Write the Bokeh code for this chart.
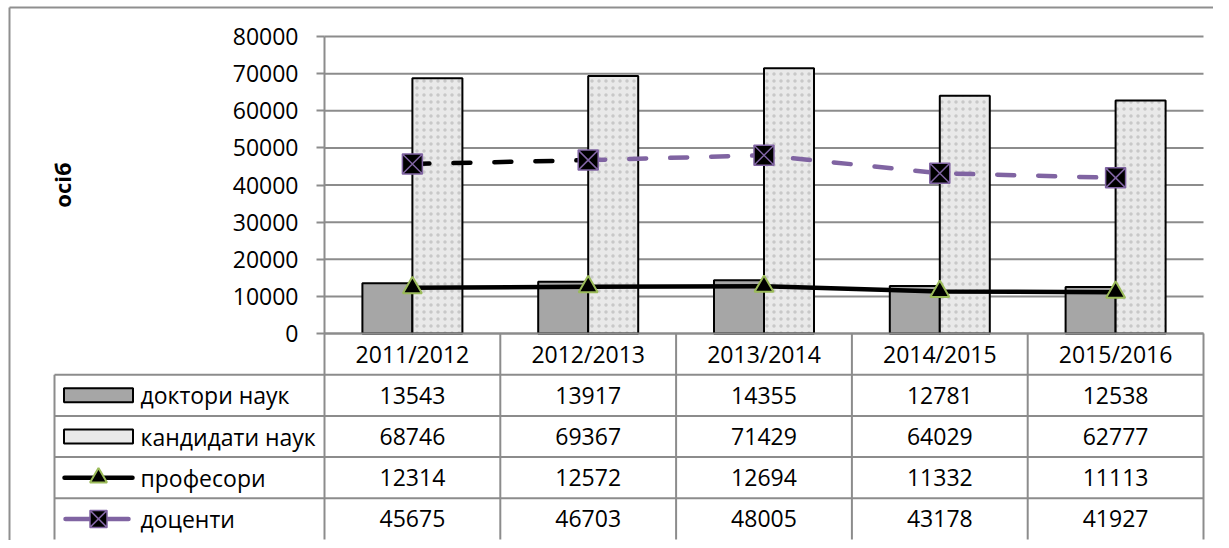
import math
from bokeh.plotting import figure
from bokeh.models import Range1d, FixedTicker, NumeralTickFormatter, LinearAxis
from bokeh.embed import file_html
from bokeh.resources import INLINE
from bokeh.core.properties import value

# ---------------- data ----------------
years = ["2011/2012", "2012/2013", "2013/2014", "2014/2015", "2015/2016"]
doctors = [13543, 13917, 14355, 12781, 12538]
candidates = [68746, 69367, 71429, 64029, 62777]
professors = [12314, 12572, 12694, 11332, 11113]
docents = [45675, 46703, 48005, 43178, 41927]
series_names = ["доктори наук", "кандидати наук", "професори", "доценти"]
y_ticks = [0, 10000, 20000, 30000, 40000, 50000, 60000, 70000, 80000]
y_title = "осіб"

# ---------------- style / layout ----------------
FONT = "Open Sans"
FS = "23px"
GRID = "#8c8c8c"
DOC_FILL = "#a6a6a6"
CAND_FILL = "#e9e9e9"
PURPLE = "#8064a2"
GREEN = "#9bbb59"

W, H = 1213, 540          # canvas size
OX, OY = 0, 0             # canvas origin in picture px
AX_X, ZERO_Y, TOP_Y = 324, 333, 36   # plot area in picture px
RIGHT_X = 1203
LEG_X = 54                # left edge of table legend column
ROW_PX = 41.2

n = len(years)
ymax = y_ticks[-1]
k = (RIGHT_X - AX_X) / n          # px per category
s = (ZERO_Y - TOP_Y) / ymax       # px per value unit


def dx(px):  # picture px -> x data
    return (px - AX_X) / k


def dy(py):  # picture px -> y data
    return (ZERO_Y - py) / s


def rows_y(r):  # table row boundary (r rows below the zero line)
    return -r * ROW_PX / s


centers = [i + 0.5 for i in range(n)]
BAR_W = 50 / k

p = figure(width=W, height=H,
           x_range=Range1d(dx(OX), dx(OX + W)),
           y_range=Range1d(dy(OY + H), dy(OY)),
           output_backend="svg", toolbar_location=None,
           min_border_left=0, min_border_right=0, min_border_top=0, min_border_bottom=0,
           x_axis_location=None, y_axis_location=None)
p.outline_line_color = None
p.grid.visible = False

# y axis at x = 0, limited to the value range
ax = LinearAxis(fixed_location=0, bounds=(0, ymax), ticker=FixedTicker(ticks=y_ticks),
                formatter=NumeralTickFormatter(format="0"))
ax.axis_line_color = GRID
ax.axis_line_width = 2
ax.major_tick_line_color = GRID
ax.major_tick_line_width = 2
ax.major_tick_out = 8
ax.major_tick_in = 0
ax.minor_tick_line_color = None
ax.major_label_standoff = 18
ax.major_label_text_font = FONT
ax.major_label_text_font_size = FS
ax.major_label_text_color = "black"
ax.axis_label = y_title
ax.axis_label_text_font = FONT
ax.axis_label_text_font_size = "22px"
ax.axis_label_text_font_style = "bold"
ax.axis_label_text_color = "black"
ax.axis_label_standoff = 153
p.add_layout(ax, "left")

# horizontal gridlines over the plot area
p.segment(x0=[0] * len(y_ticks), y0=y_ticks, x1=[n] * len(y_ticks), y1=y_ticks,
          line_color=GRID, line_width=2)

# bars
p.vbar(x=[c - BAR_W / 2 for c in centers], top=doctors, width=BAR_W,
       fill_color=DOC_FILL, line_color="black", line_width=2)
p.vbar(x=[c + BAR_W / 2 for c in centers], top=candidates, width=BAR_W,
       fill_color=CAND_FILL, line_color="black", line_width=2,
       hatch_pattern="dot", hatch_color="#c8c8c8", hatch_scale=7, hatch_weight=1.5)

# lines
p.line(centers, professors, line_color="black", line_width=4.5)
p.line(centers[:2], docents[:2], line_color="black", line_width=4.5,
       line_dash="17 24", line_cap="round")
p.line(centers[1:], docents[1:], line_color=PURPLE, line_width=4.5,
       line_dash="17 24", line_cap="round")
p.scatter(centers, professors, marker="triangle", size=19,
          fill_color="black", line_color=GREEN, line_width=2)
p.scatter(centers, docents, marker="square_x", size=20,
          fill_color="black", line_color=PURPLE, line_width=1.5)

# ---------------- data table ----------------
rows = len(series_names)
xL = dx(LEG_X)
hy = [rows_y(r) for r in range(rows + 1)]
p.segment(x0=[0] + [xL] * rows, y0=hy, x1=[n] * (rows + 1), y1=hy,
          line_color=GRID, line_width=2)
vx = list(range(0, n + 1))
p.segment(x0=vx, y0=[0] * (n + 1), x1=vx, y1=[rows_y(rows + 1)] * (n + 1),
          line_color=GRID, line_width=2)
p.segment(x0=[xL], y0=[rows_y(1)], x1=[xL], y1=[rows_y(rows + 1)],
          line_color=GRID, line_width=2)

txt = dict(text_font=value(FONT), text_font_size=FS, text_color="black",
           text_baseline="middle")
p.text(x=centers, y=[rows_y(0.5)] * n, text=years, text_align="center", **txt)
for r, vals in enumerate([doctors, candidates, professors, docents]):
    p.text(x=centers, y=[rows_y(r + 1.5)] * n, text=[str(v) for v in vals],
           text_align="center", **txt)

ys = [rows_y(r + 1.5) for r in range(rows)]
p.text(x=[dx(LEG_X + 86)] * rows, y=ys, text=series_names, text_align="left", **txt)

key_c = dx(LEG_X + 44)
key_w = 69 / k
key_h = 14 / s
p.rect(x=[key_c], y=[ys[0]], width=key_w, height=key_h,
       fill_color=DOC_FILL, line_color="black", line_width=2)
p.rect(x=[key_c], y=[ys[1]], width=key_w, height=key_h,
       fill_color=CAND_FILL, line_color="black", line_width=2)
p.segment(x0=[dx(LEG_X + 10)], y0=[ys[2]], x1=[dx(LEG_X + 78)], y1=[ys[2]],
          line_color="black", line_width=4.5, line_cap="round")
p.scatter([key_c], [ys[2]], marker="triangle", size=17,
          fill_color="black", line_color=GREEN, line_width=2)
p.segment(x0=[dx(LEG_X + 11)], y0=[ys[3]], x1=[dx(LEG_X + 74)], y1=[ys[3]],
          line_color=PURPLE, line_width=4.5, line_cap="round")
p.scatter([key_c], [ys[3]], marker="square_x", size=17,
          fill_color="black", line_color=PURPLE, line_width=1.5)

# chart-area border (left and top)
BX, BY = 9, 7
p.segment(x0=[dx(BX), dx(BX)], y0=[dy(OY + H), dy(BY)],
          x1=[dx(BX), dx(OX + W)], y1=[dy(BY), dy(BY)],
          line_color="#8f8f8f", line_width=2)

open("out.html", "w").write(file_html(p, INLINE))
